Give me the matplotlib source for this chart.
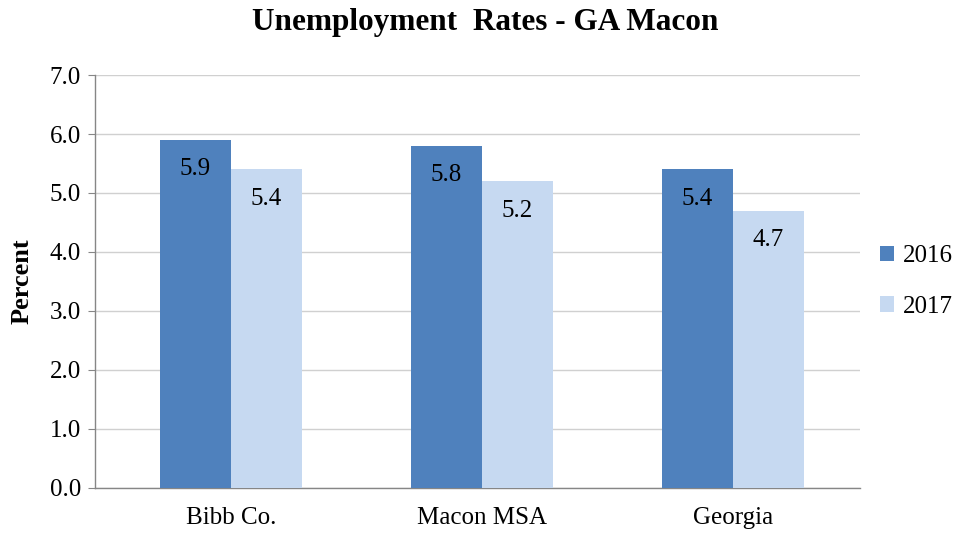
import matplotlib
matplotlib.use("Agg")
import matplotlib.pyplot as plt
import numpy as np

categories = ["Bibb Co.", "Macon MSA", "Georgia"]
series_names = ["2016", "2017"]
values_2016 = [5.9, 5.8, 5.4]
values_2017 = [5.4, 5.2, 4.7]
yticks = [0.0, 1.0, 2.0, 3.0, 4.0, 5.0, 6.0, 7.0]

plt.rcParams['font.family'] = ['Liberation Serif', 'DejaVu Serif']

fig = plt.figure(figsize=(9.71, 5.35), dpi=100)
ax = fig.add_axes([0.0978, 0.0879, 0.7879, 0.7719])

x = np.arange(len(categories))
w = 0.283
c1 = "#4F81BD"
c2 = "#C6D9F1"
b1 = ax.bar(x - w/2, values_2016, w, color=c1, label=series_names[0], zorder=3)
b2 = ax.bar(x + w/2, values_2017, w, color=c2, label=series_names[1], zorder=3)

for bars, vals in ((b1, values_2016), (b2, values_2017)):
    for rect, v in zip(bars, vals):
        ax.text(rect.get_x() + rect.get_width()/2, v - 0.5, f"{v:.1f}",
                ha="center", va="center", fontsize=18, color="black", zorder=4)

ax.set_xlim(-0.542, 2.506)
ax.set_ylim(0, 7)
ax.set_yticks(yticks)
ax.set_yticklabels([f"{t:.1f}" for t in yticks], fontsize=18)
ax.set_xticks(x)
ax.set_xticklabels(categories, fontsize=18)
ax.tick_params(axis="x", length=0, pad=14)
ax.tick_params(axis="y", length=5, color="#868686", pad=5, direction="out")
ax.yaxis.grid(True, color="#D0D0D0", linewidth=1, zorder=0)
for s in ("top", "right"):
    ax.spines[s].set_visible(False)
for s in ("left", "bottom"):
    ax.spines[s].set_color("#868686")
    ax.spines[s].set_linewidth(1)

ax.set_ylabel("Percent", fontsize=19, fontweight="bold", labelpad=12)
fig.text(0.5, 0.958, "Unemployment  Rates - GA Macon", ha="center", va="center",
         fontsize=22.5, fontweight="bold")

leg = ax.legend(loc="center left", bbox_to_anchor=(0.997, 0.5), frameon=False,
                fontsize=18, handlelength=0.55, handleheight=0.55, handletextpad=0.35,
                labelspacing=1.15)

fig.savefig("out.png", dpi=100)
